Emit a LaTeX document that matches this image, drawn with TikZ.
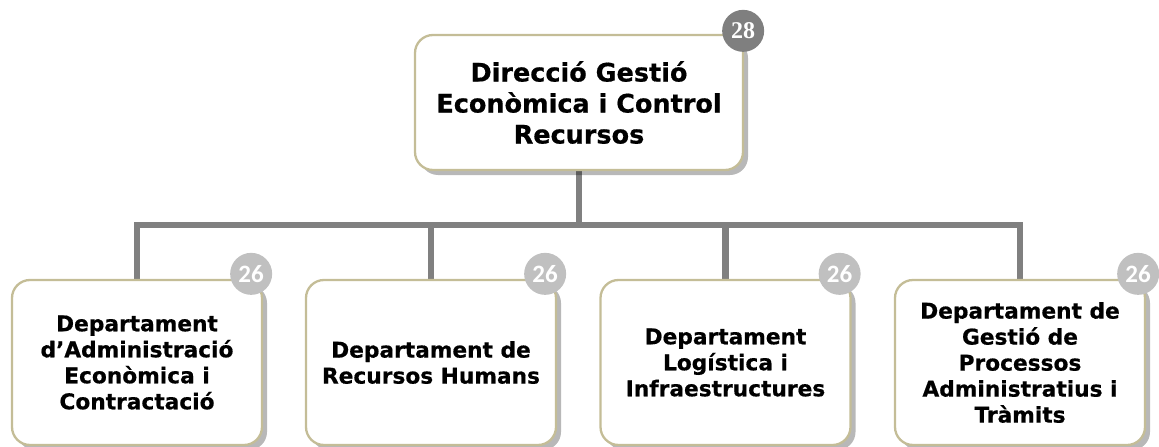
\documentclass[tikz,border=0pt]{standalone}
\usepackage{fontspec}
\setmainfont{DejaVu Sans}[BoldFeatures={FakeBold=0.6}]
\newfontfamily\badgeserif{Liberation Serif}
\newfontfamily\badgesans{Carlito}
\usetikzlibrary{shadows,backgrounds,calc}
\definecolor{boxborder}{HTML}{C4BD97}
\definecolor{connector}{HTML}{808080}
\definecolor{badgedark}{HTML}{7F7F7F}
\definecolor{badgelight}{HTML}{C0C0C0}
\begin{document}
\begin{tikzpicture}[x=1pt,y=-1pt,
  basebox/.style={draw=boxborder, line width=2.3pt, rounded corners=18pt, fill=white,
    align=center, inner sep=0pt,
    drop shadow={shadow xshift=5pt, shadow yshift=-5pt, fill=black, opacity=0.28}},
  topbox/.style={basebox, minimum width=328pt, minimum height=135pt,
    font=\bfseries\fontsize{25.5}{31}\selectfont},
  childbox/.style={basebox, minimum width=250pt, minimum height=165pt,
    font=\bfseries\fontsize{21.7}{26}\selectfont},
  badge/.style={circle, minimum size=42pt, inner sep=0pt, text=white},
  badgetop/.style={badge, fill=badgedark, font=\badgeserif\bfseries\fontsize{24}{24}\selectfont},
  badgechild/.style={badge, fill=badgelight, font=\badgesans\bfseries\fontsize{25}{25}\selectfont},
  conn/.style={draw=connector, line width=6.5pt, line join=miter}]
\useasboundingbox (0,0) rectangle (1159,447);

\node[topbox] (top) at (579,102.5) {Direcció Gestió\\Econòmica i Control\\Recursos};
\node[childbox] (c1) at (137,362.5) {Departament\\d’Administració\\Econòmica i\\Contractació};
\node[childbox] (c2) at (431,362.5) {Departament de\\Recursos Humans};
\node[childbox] (c3) at (725.5,362.5) {Departament\\Logística i\\Infraestructures};
\node[childbox] (c4) at (1020,362.5) {Departament de\\Gestió de\\Processos\\Administratius i\\Tràmits};

\node[badgetop] (b0) at ($(top.north east)+(-1,-3)$) {28};
\node[badgechild] (b1) at ($(c1.north east)+(-12,-5)$) {26};
\node[badgechild] (b2) at ($(c2.north east)+(-12,-5)$) {26};
\node[badgechild] (b3) at ($(c3.north east)+(-12,-5)$) {26};
\node[badgechild] (b4) at ($(c4.north east)+(-8,-5)$) {26};

\coordinate (bar) at (579,225);
\begin{scope}[on background layer]
  \draw[conn] (top.south) -- (bar);
  \draw[conn] (bar) -| (c1.north);
  \draw[conn] (bar) -| (c2.north);
  \draw[conn] (bar) -| (c3.north);
  \draw[conn] (bar) -| (c4.north);
\end{scope}
\end{tikzpicture}
\end{document}
